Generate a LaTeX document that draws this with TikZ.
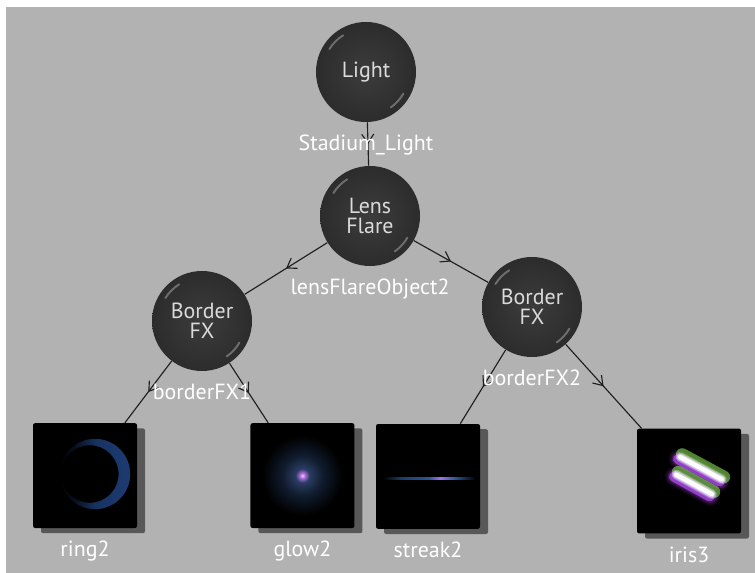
\documentclass[tikz,border=0pt]{standalone}
\usepackage{fontspec}
\setmainfont{PT Sans}
\usetikzlibrary{arrows.meta,shadows,decorations.markings}
\definecolor{backdrop}{HTML}{B2B2B2}
\definecolor{ballgray}{HTML}{3C3C3C}
\definecolor{balledge}{HTML}{2C2C2C}
\definecolor{wire}{HTML}{1E1E1E}
\definecolor{ringblue}{HTML}{1C3A70}
\definecolor{glowcore}{HTML}{F4D0FF}
\definecolor{glowpink}{HTML}{B070E0}
\definecolor{glowmid}{HTML}{2A3C62}
\definecolor{glowouter}{HTML}{101C2E}
\definecolor{streakblue}{HTML}{2A5898}
\definecolor{streakviolet}{HTML}{A070F0}
\definecolor{irisgreen}{HTML}{8CF050}
\definecolor{irisviolet}{HTML}{B04CF0}

% shadings for the little render previews
\pgfdeclareradialshading{glowspot}{\pgfpoint{0bp}{0bp}}{color(0bp)=(glowcore); color(1.2bp)=(glowpink); color(3.5bp)=(glowmid); color(10bp)=(glowouter); color(20bp)=(black); color(50bp)=(black)}
\pgfdeclarehorizontalshading{streakglow}{100bp}{color(0bp)=(black); color(25bp)=(black); color(35bp)=(streakblue!70!black); color(50bp)=(streakblue); color(56bp)=(streakviolet); color(64bp)=(streakblue); color(75bp)=(black); color(100bp)=(black)}
\pgfdeclarehorizontalshading{ringfade}{100bp}{color(0bp)=(black); color(25bp)=(black); color(35bp)=(ringblue!25!black); color(50bp)=(ringblue!85!black); color(70bp)=(ringblue); color(100bp)=(ringblue)}

\pgfdeclarelayer{backdrop}
\pgfdeclarelayer{wires}
\pgfsetlayers{backdrop,wires,main}

\begin{document}
\begin{tikzpicture}[
  txt/.style={font=\fontsize{15.6}{14.2}\selectfont},
  lbl/.style={txt, text=white, inner sep=0pt},
  every label/.style={lbl},
  label distance=0.32cm,
  ball/.style={circle, minimum size=2.5cm, inner sep=0pt, align=center, txt, text=white!86!black,
    inner color=ballgray, outer color=balledge,
    path picture={
      \draw[white, opacity=.3, line width=1.4pt, line cap=round]
        (path picture bounding box.center) ++(122:1.08) arc (122:148:1.08);
      \draw[white, opacity=.3, line width=1.4pt, line cap=round]
        (path picture bounding box.center) ++(-30:1.08) arc (-30:-55:1.08);
    }},
  thumb/.style={rectangle, fill=black, minimum width=2.6cm, minimum height=2.62cm, rounded corners=1.5pt,
    drop shadow={shadow xshift=0.2cm, shadow yshift=-0.13cm, fill=black, opacity=0.5}},
  wire/.style={draw=wire, line width=0.8pt, postaction={decorate},
    decoration={markings, mark=at position 0.5 with {\arrow{Straight Barb[length=2.2mm,width=3mm]}}}}
]
  \useasboundingbox (0,0) rectangle (18.875,-14.325);
  \begin{pgfonlayer}{backdrop}
    \fill[white] (0,0) rectangle (18.875,-14.325);
    \fill[backdrop] (0.15,-0.175) rectangle (18.875,-14.325);
  \end{pgfonlayer}

  % shading network
  \node[ball, label=below:Stadium\_Light] (light) at (9.15,-1.8) {Light};
  \node[ball, label=below:lensFlareObject2] (flare) at (9.25,-5.4) {Lens\\Flare};
  \node[ball, label=below:borderFX1] (bfxa) at (5.05,-8.025) {Border\\FX};
  \node[ball, label=below:borderFX2] (bfxb) at (13.3,-7.675) {Border\\FX};

  \node[thumb, label=below:ring2] (ring) at (2.125,-11.89) {};
  \node[thumb, label=below:glow2] (glow) at (7.56,-11.89) {};
  \node[thumb, label=below:streak2] (streak) at (10.7,-11.91) {};
  \node[thumb, label=below:iris3] (iris) at (17.225,-12.025) {};

  % previews
  \shade[shading=ringfade, even odd rule]
    (ring.center) ++(0.25,0.04) circle (0.88) (ring.center) ++(0.12,0.04) circle (0.72);
  \shade[shading=glowspot] (glow.center) circle (1.25);
  \shade[shading=streakglow] (streak.center) ++(-1.12,-0.065) rectangle ++(2.3,0.045);
  \begin{scope}[shift={(iris.center)}, line cap=round]
    \foreach \a/\b in {{(-0.22,0.6)}/{(0.82,0.04)}, {(-0.32,0.16)}/{(0.57,-0.33)}} {
      \foreach \w/\o in {0.5/0.08, 0.42/0.12, 0.34/0.2}
        \draw[irisviolet, line width=\w cm, opacity=\o, shift={(-0.04,-0.05)}] \a -- \b;
      \draw[irisgreen, line width=0.32cm, opacity=.55, shift={(0.05,0.06)}] \a -- \b;
      \draw[irisviolet, line width=0.26cm, opacity=.75, shift={(-0.05,-0.05)}] \a -- \b;
      \foreach \w/\o in {0.24/0.3, 0.18/0.5, 0.11/1}
        \draw[white, line width=\w cm, opacity=\o] \a -- \b;
    }
  \end{scope}

  \begin{pgfonlayer}{wires}
    \draw[wire] (light) -- (flare);
    \draw[wire] (flare) -- (bfxa);
    \draw[wire] (flare) -- (bfxb);
    \draw[wire] (bfxa) -- (ring);
    \draw[wire] (bfxa) -- (glow);
    \draw[wire] (bfxb) -- (streak);
    \draw[wire] (bfxb) -- (iris);
  \end{pgfonlayer}
\end{tikzpicture}
\end{document}
